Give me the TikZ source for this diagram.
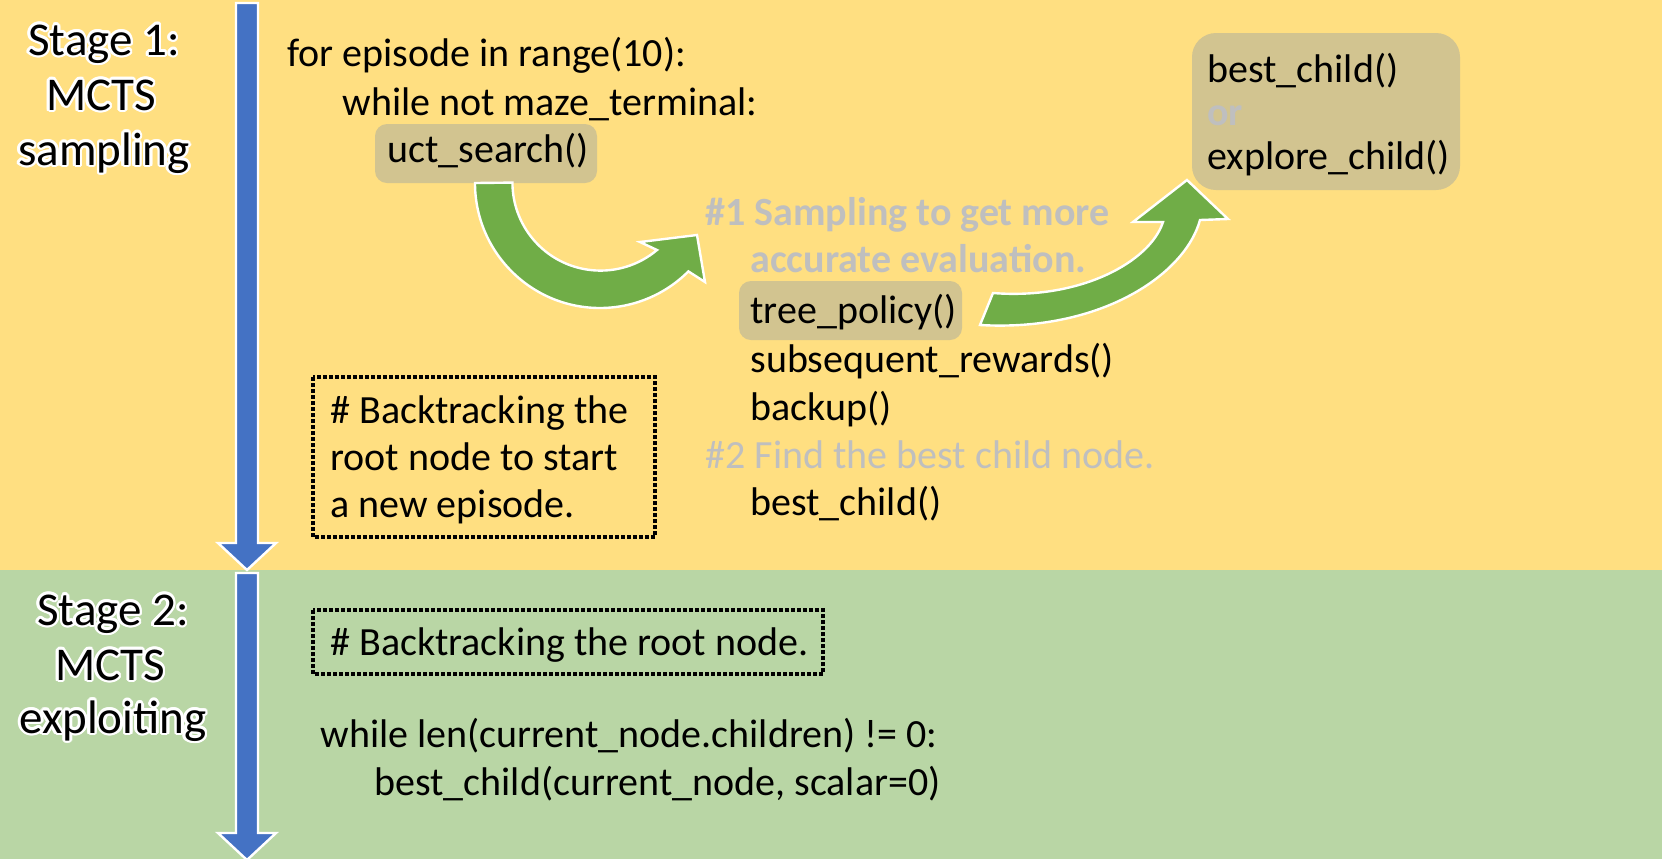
\documentclass[tikz,border=0pt]{standalone}
\usepackage{fontspec}
\setmainfont{Carlito}
\usepackage[copies]{contour}
\contourlength{1.3pt}
\contournumber{16}
\definecolor{bgyellow}{HTML}{FFDF81}
\definecolor{bggreen}{HTML}{B9D6A5}
\definecolor{arrowblue}{HTML}{4472C4}
\definecolor{arrowgreen}{HTML}{70AD47}
\definecolor{hlbox}{HTML}{D2C490}
\definecolor{graytxt}{HTML}{BFBFBF}
\begin{document}
\begin{tikzpicture}[x=0.5pt,y=-0.5pt,
  code/.style={anchor=base west, inner sep=0pt, font=\fontsize{20}{24}\selectfont},
  grayb/.style={code, text=graytxt, font=\fontsize{20}{24}\selectfont\bfseries},
  grayr/.style={code, text=graytxt},
  stagetxt/.style={anchor=base, inner sep=0pt, font=\fontsize{23.5}{28}\selectfont},
  hl/.style={fill=hlbox, rounded corners=6pt},
  dotbox/.style={draw=black, line width=1.9pt, dash pattern=on 1.9pt off 1.1pt},
  bluearrow/.style={fill=arrowblue, draw=white, line width=1.2pt},
  greenarrow/.style={fill=arrowgreen, draw=white, line width=1.2pt, line join=miter}]
\useasboundingbox (0,0) rectangle (1662,859);
% backgrounds
\fill[bgyellow] (0,0) rectangle (1662,570);
\fill[bggreen] (0,570) rectangle (1662,859);
% blue timeline arrows
\draw[bluearrow] (236,3) -- (258,3) -- (258,543) -- (276,543) -- (247,570) -- (218,543) -- (236,543) -- cycle;
\draw[bluearrow] (236,573) -- (258,573) -- (258,833) -- (276,833) -- (247,860) -- (218,833) -- (236,833) -- cycle;
% stage labels
\node[stagetxt] (s1a) at (104,55) {\contour{white}{Stage 1:}};
\node[stagetxt] (s1b) at (101,110) {\contour{white}{MCTS}};
\node[stagetxt] (s1c) at (104,165) {\contour{white}{sampling}};
\node[stagetxt] (s2a) at (113,625) {\contour{white}{Stage 2:}};
\node[stagetxt] (s2b) at (110,680) {\contour{white}{MCTS}};
\node[stagetxt] (s2c) at (113,733) {\contour{white}{exploiting}};
% highlight boxes
\fill[hl] (375,124) rectangle (597,183);
\fill[hl] (739,281) rectangle (962,340);
\fill[hl, rounded corners=12pt] (1192,33) rectangle (1460,190);
% green curved arrows
\draw[greenarrow] (475,183) arc[start angle=180, end angle=45, radius=125]
  -- (705,282) -- (697,235) -- (640,242) -- (657,250)
  arc[start angle=50, end angle=180, radius=88] -- cycle;
\draw[greenarrow] (993,293) .. controls (1080,300) and (1150,262) .. (1163,222)
  -- (1133,222) -- (1187,180) -- (1228,219) -- (1200,220)
  .. controls (1185,275) and (1100,332) .. (980,325) -- cycle;
% stage 1 code
\node[code] (l1) at (287,66) {for episode in range(10):};
\node[code] (l2) at (342,115) {while not maze\_terminal:};
\node[code] (l3) at (387,162) {uct\_search()};
\node[grayb] (c1) at (705,225) {\#1 Sampling to get more};
\node[grayb] (c1b) at (750,272) {accurate evaluation.};
\node[code] (l4) at (750,323) {tree\_policy()};
\node[code] (l5) at (750,372) {subsequent\_rewards()};
\node[code] (l6) at (750,420) {backup()};
\node[grayr] (c2) at (705,468) {\#2 Find the best child node.};
\node[code] (l7) at (750,515) {best\_child()};
% top right box
\node[code] (r1) at (1207,82) {best\_child()};
\node[grayb] (r2) at (1207,125) {or};
\node[code] (r3) at (1207,169) {explore\_child()};
% dotted box 1
\draw[dotbox] (313,377) rectangle (655,537);
\node[code] (b1) at (330,423) {\# Backtracking the};
\node[code] (b2) at (330,470) {root node to start};
\node[code] (b3) at (330,517) {a new episode.};
% stage 2
\draw[dotbox] (313,610) rectangle (823,674);
\node[code] (b4) at (330,655) {\# Backtracking the root node.};
\node[code] (m1) at (320,747) {while len(current\_node.children) != 0:};
\node[code] (m2) at (374,795) {best\_child(current\_node, scalar=0)};
\end{tikzpicture}
\end{document}
